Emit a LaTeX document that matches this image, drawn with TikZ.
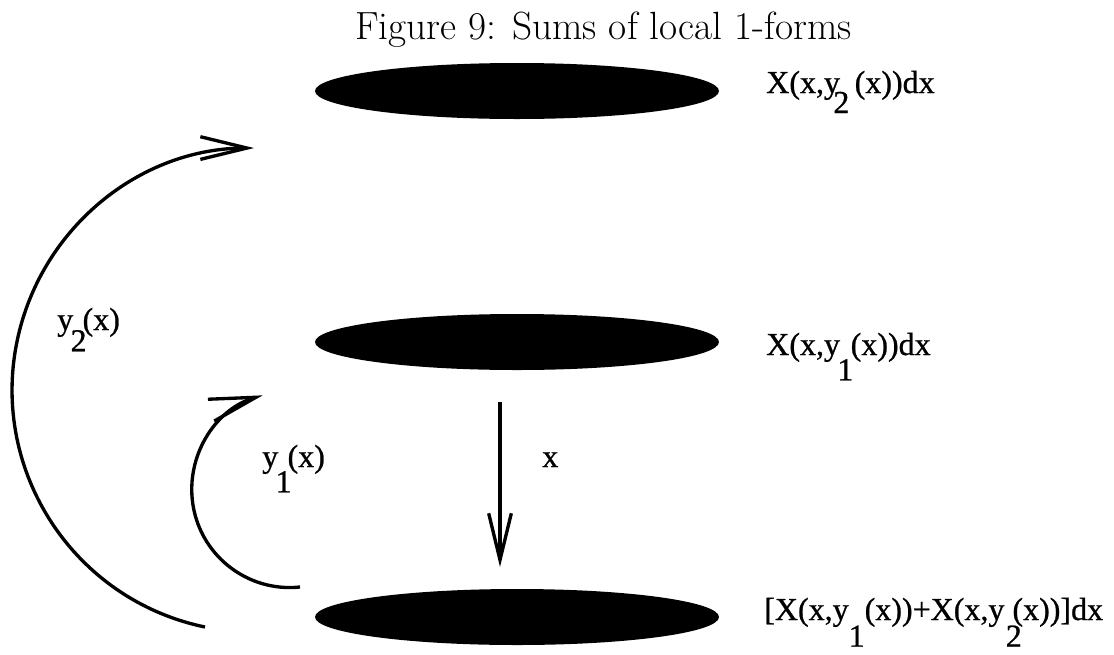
\documentclass[tikz,border=0pt]{standalone}
\usepackage{fontspec}
\newfontfamily\labfont[FakeBold=0.8]{Liberation Serif}
\usetikzlibrary{arrows.meta, shapes.geometric}

\begin{document}
\begin{tikzpicture}[
    x=0.75pt, y=-0.75pt, % one unit per pixel, y downwards
    blob/.style={ellipse, fill=black, inner sep=0pt, minimum width=303pt, minimum height=42pt}, % Black leaf
    conn/.style={line width=2.5pt, -{Straight Barb[length=35pt, width=17pt]}}, % Style for arrows
    lab/.style={font=\labfont\fontsize{24}{27}\selectfont, inner sep=0pt, anchor=base west}, % Style for labels
    ttl/.style={font=\fontsize{29.5}{32}\selectfont, inner sep=0pt, anchor=base west} % Style for title
]

    \useasboundingbox (0,0) rectangle (1114,654);

    % Title
    \node[ttl] (title) at (355,39) {Figure 9: Sums of local 1-forms};

    % The three leaves
    \node[blob] (top) at (517,91) {};
    \node[blob] (mid) at (517,342) {};
    \node[blob] (bot) at (517,617) {};

    % Labels of the leaves
    \node[lab] (ltop) at (766,93) {X(x,y\kern-5pt\raisebox{-15pt}{2}\kern4pt(x))dx};
    \node[lab] (lmid) at (766,355) {X(x,y\kern-2pt\raisebox{-19pt}{1}\kern-2pt(x))dx};
    \node[lab] (lbot) at (764,620) {[X(x,y\raisebox{-20pt}{1}(x))+X(x,y\kern1pt\raisebox{-20pt}{2}\kern-7pt(x))]dx};

    % Projection x
    \coordinate (xs) at (500,402);
    \coordinate (xe) at (500,567);
    \draw[conn] (xs) -- (xe);
    \node[lab] (lx) at (542,467) {x};

    % Sections y1 and y2
    \coordinate (s1) at (300,587);
    \coordinate (s2) at (205,627);
    \draw[conn] (s1) arc[start angle=84, end angle=254, radius=98];
    \draw[conn] (s2) arc[start angle=101.7, end angle=270, radius=242];
    \node[lab] (ly1) at (262,467) {y\kern-2pt\raisebox{-19pt}{1}\kern-3pt(x)};
    \node[lab] (ly2) at (57,330) {y\kern-2pt\raisebox{-16pt}{2}\kern-3pt(x)};

\end{tikzpicture}
\end{document}
